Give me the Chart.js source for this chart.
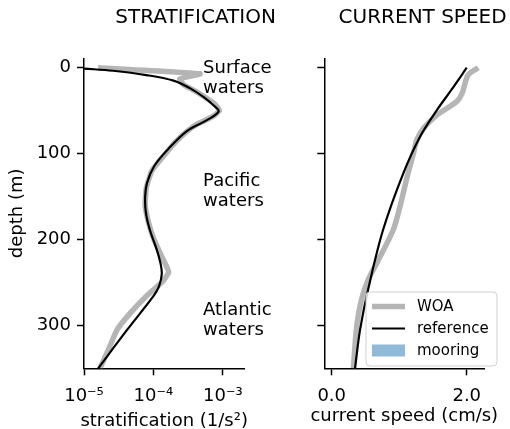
<!DOCTYPE html>
<html>
<head>
    <title>Stratification and current speed</title>
    <style>
        body {
            margin: 0;
            background-color: #ffffff;
        }

        #wrap {
            position: relative;
            width: 510px;
            height: 429px;
        }

        canvas {
            position: absolute;
            top: 0;
        }

        #stratChart { left: 0; }
        #speedChart { left: 300px; }
    </style>
    <script src="https://cdn.jsdelivr.net/npm/chart.js@4"></script>
</head>
<body>
    <div id="wrap">
        <canvas id="stratChart" width="300" height="429"></canvas>
        <canvas id="speedChart" width="210" height="429"></canvas>
    </div>

    <script>
        // stratification profiles (1/s^2) against depth (m)
        var refDepth = [1, 3.5, 8.5, 15, 24, 34, 44, 51, 61, 74, 96, 115, 134, 150, 169, 189, 212, 227, 240, 255, 266, 305, 350];
        var refStrat = [1.0e-5, 2.63e-5, 7.9e-5, 1.95e-4, 3.4e-4, 5.25e-4, 7.4e-4, 8.7e-4, 5.9e-4, 3.0e-4, 1.58e-4, 1.02e-4,
                        8.1e-5, 7.6e-5, 7.8e-5, 8.9e-5, 1.12e-4, 1.26e-4, 1.32e-4, 1.2e-4, 1.0e-4, 4.2e-5, 1.6e-5];
        var woaDepth = [0, 7, 13, 20, 28, 36, 42, 50, 57, 66, 75, 88, 100, 120, 140, 160, 180, 200, 220, 238, 250, 266, 286, 305, 330, 350];
        var woaStrat = [1.6e-5, 4.7e-4, 2.4e-4, 2.75e-4, 4.2e-4, 6.0e-4, 7.6e-4, 8.9e-4, 7.1e-4, 4.2e-4, 2.95e-4, 2.0e-4, 1.5e-4,
                        9.5e-5, 7.9e-5, 7.6e-5, 8.5e-5, 1.02e-4, 1.32e-4, 1.66e-4, 1.32e-4, 7.9e-5, 4.6e-5, 3.0e-5, 2.2e-5, 1.7e-5];

        // current speed profiles (cm/s) against depth (m)
        var refSpeedDepth = [0, 25, 49, 80, 123, 189, 258, 305, 350];
        var refSpeed = [2.0, 1.78, 1.56, 1.31, 1.06, 0.76, 0.54, 0.42, 0.345];
        var woaSpeedDepth = [0, 8.5, 30, 39.5, 55, 70.5, 84, 100, 123, 162, 189, 227, 247, 270, 301, 350];
        var woaSpeed = [2.17, 2.02, 1.93, 1.85, 1.56, 1.36, 1.26, 1.21, 1.13, 1.01, 0.91, 0.67, 0.54, 0.44, 0.37, 0.32];

        var depthTicks = [0, 100, 200, 300];
        var stratTicks = [1e-5, 1e-4, 1e-3];
        var stratTickLabels = ['10\u207B\u2075', '10\u207B\u2074', '10\u207B\u00B3'];
        var speedTicks = [0, 2];
        var speedTickLabels = ['0.0', '2.0'];

        var waterMasses = [['Surface', 'waters'], ['Pacific', 'waters'], ['Atlantic', 'waters']];
        var waterMassDepth = [6.5, 138, 287.5];   // baseline of first line
        var waterMassX = 5.2e-4;

        var woaColor = '#b5b5b5';
        var mooringColor = '#8fbbd9';

        Chart.defaults.font.family = "'DejaVu Sans', sans-serif";
        Chart.defaults.color = '#000';

        function pairs(xs, ys) {
            return xs.map(function (x, i) { return { x: x, y: ys[i] }; });
        }

        function depthAxis(showLabels, width) {
            return {
                type: 'linear',
                reverse: true,
                min: -11,
                max: 350,
                afterBuildTicks: function (s) { s.ticks = depthTicks.map(function (v) { return { value: v }; }); },
                afterFit: function (s) { s.width = width; },
                ticks: { display: showLabels, font: { size: 18 }, padding: 6 },
                grid: { drawOnChartArea: false, drawTicks: true, tickLength: 7, tickColor: '#000', tickWidth: 1.5 },
                border: { display: true, color: '#000', width: 1.5 },
                title: { display: showLabels, text: 'depth (m)', font: { size: 18 }, padding: { top: 7, bottom: 0 } }
            };
        }

        function bottomAxis(extra) {
            var axis = {
                afterFit: function (s) { s.height = 60.7; },
                grid: { drawOnChartArea: false, drawTicks: true, tickLength: 7, tickColor: '#000', tickWidth: 1.5 },
                border: { display: true, color: '#000', width: 1.5 }
            };
            return Object.assign(axis, extra);
        }

        // titles, x labels, water mass notes and the legend
        var textPlugin = {
            id: 'panelText',
            afterDraw: function (chart, args, opts) {
                var ctx = chart.ctx;
                var area = chart.chartArea;
                ctx.save();
                ctx.fillStyle = '#000';
                ctx.textAlign = 'center';
                ctx.textBaseline = 'alphabetic';
                ctx.font = "20px 'DejaVu Sans'";
                ctx.fillText(opts.title, opts.titleX, 22.7);

                ctx.font = "18px 'DejaVu Sans'";
                ctx.fillText(opts.xLabel, (area.left + area.right) / 2, opts.xLabelY);

                if (opts.annotate) {
                    var xs = chart.scales.x, ys = chart.scales.y;
                    ctx.textAlign = 'left';
                    waterMasses.forEach(function (lines, i) {
                        var px = xs.getPixelForValue(waterMassX);
                        var py = ys.getPixelForValue(waterMassDepth[i]);
                        lines.forEach(function (t, j) { ctx.fillText(t, px, py + j * 20); });
                    });
                }

                if (opts.legend) {
                    var bx = 66, by = 292, bw = 131, bh = 74;
                    ctx.beginPath();
                    ctx.roundRect(bx, by, bw, bh, 4);
                    ctx.fillStyle = 'rgba(255,255,255,0.8)';
                    ctx.fill();
                    ctx.strokeStyle = '#d0d0d0';
                    ctx.lineWidth = 1;
                    ctx.stroke();
                    var rows = [306.5, 328.5, 350.5];
                    ctx.font = "15px 'DejaVu Sans'";
                    ctx.textAlign = 'left';
                    ctx.textBaseline = 'middle';
                    chart.data.datasets.forEach(function (ds, i) {
                        var y = rows[i];
                        if (ds.fill) {
                            ctx.fillStyle = ds.backgroundColor;
                            ctx.fillRect(72, y - 6, 33, 12);
                        } else {
                            ctx.beginPath();
                            ctx.moveTo(72, y);
                            ctx.lineTo(105, y);
                            ctx.strokeStyle = ds.borderColor;
                            ctx.lineWidth = ds.borderWidth;
                            ctx.stroke();
                        }
                        ctx.fillStyle = '#000';
                        ctx.fillText(ds.label, 117, y + 1);
                    });
                }
                ctx.restore();
            }
        };

        var common = {
            responsive: false,
            animation: false,
            elements: { point: { radius: 0 } }
        };

        new Chart(document.getElementById('stratChart'), {
            type: 'scatter',
            data: {
                datasets: [
                    { label: 'WOA', data: pairs(woaStrat, woaDepth), showLine: true, borderColor: woaColor, borderWidth: 5.5, tension: 0.15, order: 2 },
                    { label: 'reference', data: pairs(refStrat, refDepth), showLine: true, borderColor: '#000', borderWidth: 2.2, tension: 0.35, order: 1 }
                ]
            },
            options: Object.assign({}, common, {
                layout: { padding: { left: 0, top: 58.3, right: 55.7, bottom: 0 } },
                scales: {
                    x: bottomAxis({
                        type: 'logarithmic',
                        min: 1e-5,
                        max: 2.04e-3,
                        afterBuildTicks: function (s) { s.ticks = stratTicks.map(function (v) { return { value: v }; }); },
                        ticks: {
                            font: { size: 18 }, padding: 10,
                            callback: function (v) { return stratTickLabels[stratTicks.indexOf(v)]; }
                        }
                    }),
                    y: depthAxis(true, 84)
                },
                plugins: {
                    legend: { display: false },
                    tooltip: { enabled: false },
                    panelText: { title: 'STRATIFICATION', titleX: 195.6, annotate: true,
                                 xLabel: 'stratification (1/s\u00B2)', xLabelY: 426 }
                }
            }),
            plugins: [textPlugin]
        });

        new Chart(document.getElementById('speedChart'), {
            type: 'scatter',
            data: {
                datasets: [
                    { label: 'WOA', data: pairs(woaSpeed, woaSpeedDepth), showLine: true, borderColor: woaColor, borderWidth: 5.5, tension: 0.3, order: 2 },
                    { label: 'reference', data: pairs(refSpeed, refSpeedDepth), showLine: true, borderColor: '#000', borderWidth: 2.2, tension: 0.35, order: 1 },
                    { label: 'mooring', data: [], fill: true, backgroundColor: mooringColor, borderWidth: 0, order: 3 }
                ]
            },
            options: Object.assign({}, common, {
                layout: { padding: { left: 0, top: 58.3, right: 25.7, bottom: 0 } },
                scales: {
                    x: bottomAxis({
                        type: 'linear',
                        min: -0.11,
                        max: 2.26,
                        afterBuildTicks: function (s) { s.ticks = speedTicks.map(function (v) { return { value: v }; }); },
                        ticks: {
                            font: { size: 18 }, padding: 10,
                            callback: function (v) { return speedTickLabels[speedTicks.indexOf(v)]; }
                        }
                    }),
                    y: depthAxis(false, 24.3)
                },
                plugins: {
                    legend: { display: false },
                    tooltip: { enabled: false },
                    panelText: { title: 'CURRENT SPEED', titleX: 122.6, legend: true,
                                 xLabel: 'current speed (cm/s)', xLabelY: 420.7 }
                }
            }),
            plugins: [textPlugin]
        });
    </script>
</body>
</html>
